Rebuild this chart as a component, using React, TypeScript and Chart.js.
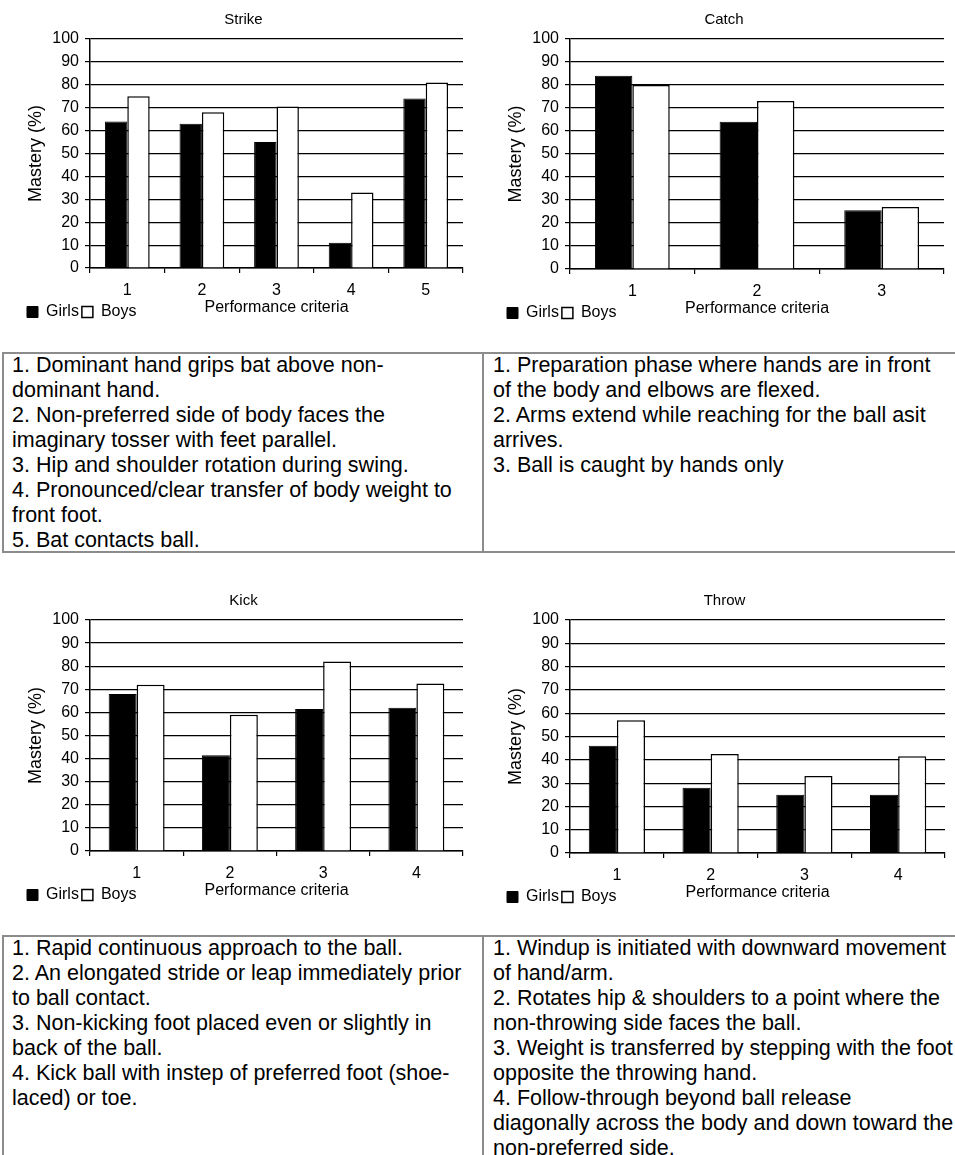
import React, { useEffect, useRef } from "react";
import { Chart, registerables } from "chart.js";

Chart.register(...registerables);

const FONT = '"Liberation Sans", Arial, Helvetica, sans-serif';

// ---- data ----
const seriesNames = ["Girls", "Boys"];
const yAxisTitle = "Mastery (%)";
const xAxisTitle = "Performance criteria";

const strikeCriteria = ["1", "2", "3", "4", "5"];
const strikeGirls = [64, 63, 55, 11, 74];
const strikeBoys = [75, 68, 70.5, 33, 81];

const catchCriteria = ["1", "2", "3"];
const catchGirls = [84, 64, 25.5];
const catchBoys = [80, 73, 27];

const kickCriteria = ["1", "2", "3", "4"];
const kickGirls = [68, 41.5, 61.5, 62];
const kickBoys = [72, 59, 82, 72.5];

const throwCriteria = ["1", "2", "3", "4"];
const throwGirls = [46, 28, 25, 25];
const throwBoys = [57, 42.5, 33, 41.5];

const strikeText =
  "1. Dominant hand grips bat above non-\ndominant hand.\n2. Non-preferred side of body faces the\nimaginary tosser with feet parallel.\n3. Hip and shoulder rotation during swing.\n4. Pronounced/clear transfer of body weight to\nfront foot.\n5. Bat contacts ball.";
const catchText =
  "1. Preparation phase where hands are in front\nof the body and elbows are flexed.\n2. Arms extend while reaching for the ball asit\narrives.\n3. Ball is caught by hands only";
const kickText =
  "1. Rapid continuous approach to the ball.\n2. An elongated stride or leap immediately prior\nto ball contact.\n3. Non-kicking foot placed even or slightly in\nback of the ball.\n4. Kick ball with instep of preferred foot (shoe-\nlaced) or toe.";
const throwText =
  "1. Windup is initiated with downward movement\nof hand/arm.\n2. Rotates hip & shoulders to a point where the\nnon-throwing side faces the ball.\n3. Weight is transferred by stepping with the foot\nopposite the throwing hand.\n4. Follow-through beyond ball release\ndiagonally across the body and down toward the\nnon-preferred side.";

type PanelProps = {
  title: string;
  labels: string[];
  girls: number[];
  boys: number[];
  left: number;
  top: number;
  width: number;
  plotLeft: number;
  plotRight: number;
  plotTop: number;
  plotBottom: number;
};

function ChartPanel(p: PanelProps) {
  const ref = useRef<HTMLCanvasElement | null>(null);
  const H = p.plotBottom + 62;
  const lp = 3;
  const padLeft = 27 - lp;

  useEffect(() => {
    if (!ref.current) return;
    const chart = new Chart(ref.current, {
      type: "bar",
      data: {
        labels: p.labels,
        datasets: [
          {
            label: seriesNames[0],
            data: p.girls,
            backgroundColor: "#000000",
            borderColor: "#000000",
            borderWidth: 1,
            categoryPercentage: 0.6,
            barPercentage: 1,
          },
          {
            label: seriesNames[1],
            data: p.boys,
            backgroundColor: "#ffffff",
            borderColor: "#000000",
            borderWidth: 1.5,
            categoryPercentage: 0.6,
            barPercentage: 1,
          },
        ],
      },
      options: {
        animation: false,
        responsive: false,
        maintainAspectRatio: false,
        layout: {
          padding: { left: padLeft, right: p.width - p.plotRight, top: 0, bottom: 0 },
        },
        plugins: {
          title: {
            display: true,
            text: p.title,
            color: "#000",
            font: { family: FONT, size: 15, weight: "normal" },
            padding: { top: p.plotTop - 28, bottom: 10 },
          },
          legend: {
            position: "bottom",
            align: "start",
            labels: {
              boxWidth: 11,
              boxHeight: 11,
              padding: lp,
              color: "#000",
              font: { family: FONT, size: 16 },
            },
          },
          tooltip: { enabled: false },
        },
        scales: {
          x: {
            grid: {
              display: true,
              drawOnChartArea: false,
              drawTicks: true,
              tickLength: 5,
              color: "#000",
              lineWidth: 1.2,
              offset: true,
            },
            border: { display: true, color: "#000", width: 1.5 },
            ticks: { color: "#000", font: { family: FONT, size: 16 }, padding: 8, maxRotation: 0 },
            title: {
              display: true,
              text: xAxisTitle,
              color: "#000",
              font: { family: FONT, size: 16 },
              padding: { top: 0, bottom: -16.6 },
            },
            afterFit: (s: any) => {
              s.height = 33;
            },
          },
          y: {
            min: 0,
            max: 100,
            ticks: { stepSize: 10, color: "#000", font: { family: FONT, size: 16 }, padding: 6 },
            grid: { color: "#000", lineWidth: 1.2, tickLength: 5, drawTicks: true },
            border: { display: true, color: "#000", width: 1.5 },
            title: {
              display: true,
              text: yAxisTitle,
              color: "#000",
              font: { family: FONT, size: 18 },
              padding: { top: 1.2, bottom: 0 },
            },
            afterFit: (s: any) => {
              s.width = p.plotLeft - padLeft;
            },
          },
        },
      } as any,
    });
    return () => chart.destroy();
  }, []);

  return (
    <canvas
      ref={ref}
      width={p.width}
      height={H}
      style={{ position: "absolute", left: p.left, top: p.top, width: p.width, height: H, display: "block" }}
    />
  );
}

const textStyle: React.CSSProperties = {
  position: "absolute",
  fontFamily: FONT,
  fontSize: 21.5,
  lineHeight: "25px",
  color: "#000",
  whiteSpace: "pre",
  margin: 0,
};

function TextBox({ top, height, leftText, rightText }: { top: number; height: number; leftText: string; rightText: string }) {
  const border = "2px solid #8c8c8c";
  return (
    <>
      <div
        style={{
          position: "absolute",
          left: 2,
          top: top,
          width: 1100,
          height: height,
          borderTop: border,
          borderBottom: border,
          borderLeft: border,
          boxSizing: "border-box",
        }}
      />
      <div style={{ position: "absolute", left: 482, top: top, width: 2, height: height, background: "#8c8c8c" }} />
      <div style={{ ...textStyle, left: 12, top: top + 1 }}>{leftText}</div>
      <div style={{ ...textStyle, left: 493, top: top + 1 }}>{rightText}</div>
    </>
  );
}

export default function App() {
  return (
    <div
      style={{
        position: "absolute",
        left: 0,
        top: 0,
        width: 955,
        height: 1155,
        overflow: "hidden",
        background: "#fff",
      }}
    >
      <ChartPanel title="Strike" labels={strikeCriteria} girls={strikeGirls} boys={strikeBoys}
        left={0} top={0} width={480} plotLeft={90} plotRight={463} plotTop={39} plotBottom={268} />
      <ChartPanel title="Catch" labels={catchCriteria} girls={catchGirls} boys={catchBoys}
        left={480} top={0} width={475} plotLeft={90} plotRight={464} plotTop={39} plotBottom={269} />
      <ChartPanel title="Kick" labels={kickCriteria} girls={kickGirls} boys={kickBoys}
        left={0} top={580} width={480} plotLeft={90} plotRight={463} plotTop={40} plotBottom={271} />
      <ChartPanel title="Throw" labels={throwCriteria} girls={throwGirls} boys={throwBoys}
        left={480} top={580} width={475} plotLeft={90} plotRight={465} plotTop={40} plotBottom={273} />
      <TextBox top={352} height={201} leftText={strikeText} rightText={catchText} />
      <TextBox top={935} height={240} leftText={kickText} rightText={throwText} />
    </div>
  );
}
